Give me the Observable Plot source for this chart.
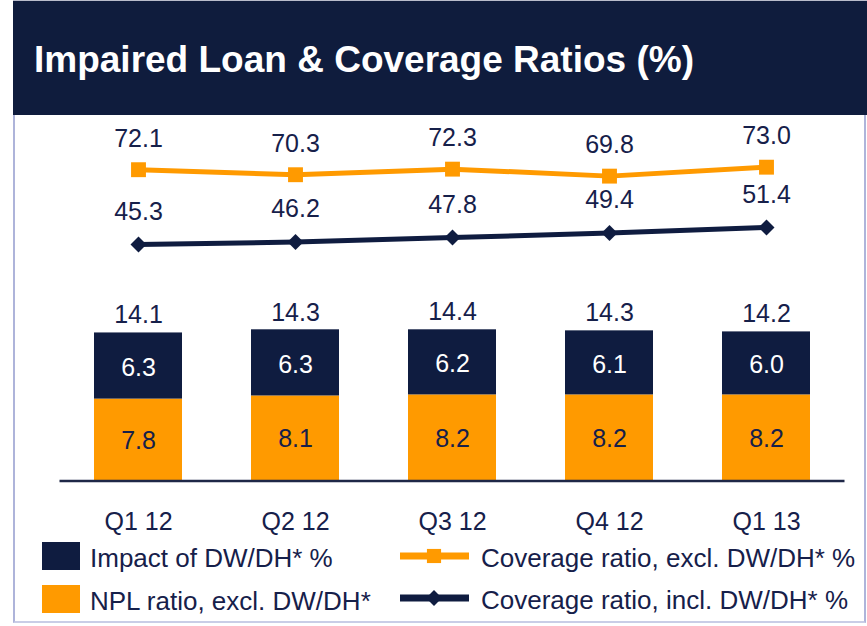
<!DOCTYPE html>
<html>
<head>
<meta charset="utf-8">
<script src="https://cdn.jsdelivr.net/npm/d3@7"></script>
<script src="https://cdn.jsdelivr.net/npm/@observablehq/plot@0.6"></script>
<style>
  html, body { margin: 0; padding: 0; background: #ffffff; }
  #page { position: relative; width: 867px; height: 626px; overflow: hidden; font-family: "Liberation Sans", Arial, sans-serif; }
  #frame { position: absolute; left: 13px; top: 0; width: 853px; height: 623px; box-sizing: border-box;
           border-left: 2px solid #aeb4da; border-right: 2px solid #aeb4da; border-bottom: 2px solid #c9cde6; }
  #header { position: absolute; left: 13px; top: 0; width: 854px; height: 115px; background: #0f1c3d; border-top: 1px solid #b9bccb; box-sizing: border-box; }
  #title { position: absolute; left: 21px; top: 40px; margin: 0; font-size: 37px; line-height: 37px; font-weight: bold; color: #ffffff; white-space: nowrap; }
  .plotlayer { position: absolute; left: 0; top: 115px; }
  .legtext { position: absolute; font-size: 26px; line-height: 26px; color: #16204a; white-space: nowrap; }
  .swatch { position: absolute; width: 38px; height: 28px; }
</style>
</head>
<body>
<div id="page">
  <div id="frame"></div>
  <div id="header"><h1 id="title"></h1></div>
  <div id="bars" class="plotlayer"></div>
  <div id="lines" class="plotlayer"></div>
  <div id="legend"></div>
</div>
<script>
// ---- data ----
const titleText = "Impaired Loan & Coverage Ratios (%)";
const quarters = ["Q1 12", "Q2 12", "Q3 12", "Q4 12", "Q1 13"];
const nplRatio = [7.8, 8.1, 8.2, 8.2, 8.2];          // NPL ratio, excl. DW/DH*
const dwImpact = [6.3, 6.3, 6.2, 6.1, 6.0];          // Impact of DW/DH* %
const barTotals = [14.1, 14.3, 14.4, 14.3, 14.2];    // labelled totals
const coverageExcl = [72.1, 70.3, 72.3, 69.8, 73.0]; // Coverage ratio, excl. DW/DH* %
const coverageIncl = [45.3, 46.2, 47.8, 49.4, 51.4]; // Coverage ratio, incl. DW/DH* %
const seriesNames = ["Impact of DW/DH* %", "NPL ratio, excl. DW/DH*", "Coverage ratio, excl. DW/DH* %", "Coverage ratio, incl. DW/DH* %"];

// ---- style ----
const navy = "#0f1c40";
const orange = "#ff9a00";
const textColor = "#16204a";
const font = "'Liberation Sans', Arial, sans-serif";

document.getElementById("title").textContent = titleText;

// ---- tables ----
const stackRows = [];
quarters.forEach((q, i) => stackRows.push({q, series: seriesNames[1], value: nplRatio[i]}));
quarters.forEach((q, i) => stackRows.push({q, series: seriesNames[0], value: dwImpact[i]}));
const totalRows = quarters.map((q, i) => ({q, total: barTotals[i]}));
const exclRows = quarters.map((q, i) => ({q, v: coverageExcl[i]}));
const inclRows = quarters.map((q, i) => ({q, v: coverageIncl[i]}));

const W = 867, H = 511;
const xScale = {domain: quarters, paddingInner: 0.44, paddingOuter: 0.22, align: 0.5};
const common = {width: W, height: H, marginLeft: 59.5, marginRight: 22.5,
  style: {background: "transparent", fontFamily: font, color: textColor, overflow: "visible"}};

// ---- bar layer ----
const barPlot = Plot.plot({
  ...common,
  marginTop: 155.5, marginBottom: 145.5,
  x: {...xScale, axis: null},
  y: {domain: [0, 20], axis: null},
  color: {domain: [seriesNames[1], seriesNames[0]], range: [orange, navy]},
  marks: [
    Plot.barY(stackRows, {x: "q", y: "value", fill: "series"}),
    Plot.text(stackRows, Plot.filter(d => d.series === seriesNames[0], Plot.stackY({x: "q", y: "value",
      text: d => d.value.toFixed(1), fill: "white", fontSize: 25, dy: 2}))),
    Plot.text(stackRows, Plot.filter(d => d.series === seriesNames[1], Plot.stackY({x: "q", y: "value",
      text: d => d.value.toFixed(1), fill: textColor, fontSize: 25, dy: 1}))),
    Plot.text(totalRows, {x: "q", y: "total", text: d => d.total.toFixed(1), fill: textColor,
      fontSize: 25, lineAnchor: "bottom", dy: -10}),
    Plot.ruleY([0], {stroke: "#1e2747", strokeWidth: 2.5}),
    Plot.axisX({tickSize: 0, tickPadding: 31, fontSize: 25, label: null, fill: textColor})
  ]
});
document.getElementById("bars").appendChild(barPlot);

// ---- line layer (secondary value scale) ----
const linePlot = Plot.plot({
  ...common,
  marginTop: 4.2, marginBottom: 339.2,
  x: {...xScale, axis: null},
  y: {domain: [30, 90], axis: null},
  marks: [
    Plot.lineY(exclRows, {x: "q", y: "v", stroke: orange, strokeWidth: 5}),
    Plot.dot(exclRows, {x: "q", y: "v", symbol: "square", r: 8.4, fill: orange, stroke: "none"}),
    Plot.text(exclRows, {x: "q", y: "v", text: d => d.v.toFixed(1), fill: textColor, fontSize: 25, lineAnchor: "bottom", dy: -23}),
    Plot.lineY(inclRows, {x: "q", y: "v", stroke: navy, strokeWidth: 5}),
    Plot.dot(inclRows, {x: "q", y: "v", symbol: "diamond2", r: 7.2, fill: navy, stroke: "none"}),
    Plot.text(inclRows, {x: "q", y: "v", text: d => d.v.toFixed(1), fill: textColor, fontSize: 25, lineAnchor: "bottom", dy: -25})
  ]
});
document.getElementById("lines").appendChild(linePlot);

// ---- legend ----
const legend = document.getElementById("legend");
function addText(txt, left, top) {
  const d = document.createElement("div");
  d.className = "legtext"; d.style.left = left + "px"; d.style.top = top + "px"; d.textContent = txt;
  legend.appendChild(d);
}
function addSwatch(color, left, top) {
  const d = document.createElement("div");
  d.className = "swatch"; d.style.left = left + "px"; d.style.top = top + "px"; d.style.background = color;
  legend.appendChild(d);
}
function addLineSym(color, symbolType, top, size) {
  const ns = "http://www.w3.org/2000/svg";
  const svg = document.createElementNS(ns, "svg");
  svg.setAttribute("width", 80); svg.setAttribute("height", 24);
  svg.style.position = "absolute"; svg.style.left = "396px"; svg.style.top = (top - 12) + "px";
  const line = document.createElementNS(ns, "line");
  line.setAttribute("x1", 4); line.setAttribute("x2", 73); line.setAttribute("y1", 12); line.setAttribute("y2", 12);
  line.setAttribute("stroke", color); line.setAttribute("stroke-width", 7);
  svg.appendChild(line);
  const p = document.createElementNS(ns, "path");
  p.setAttribute("d", d3.symbol(symbolType, size)());
  p.setAttribute("transform", "translate(38,12)");
  p.setAttribute("fill", color);
  svg.appendChild(p);
  legend.appendChild(svg);
}
addSwatch(navy, 42, 542);
addText(seriesNames[0], 90, 545);
addSwatch(orange, 42, 585);
addText(seriesNames[1], 90, 587.5);
addLineSym(orange, d3.symbolSquare, 556, 200);
addText(seriesNames[2], 481, 545);
addLineSym(navy, d3.symbolDiamond2, 598, 160);
addText(seriesNames[3], 481, 587);
</script>
</body>
</html>
